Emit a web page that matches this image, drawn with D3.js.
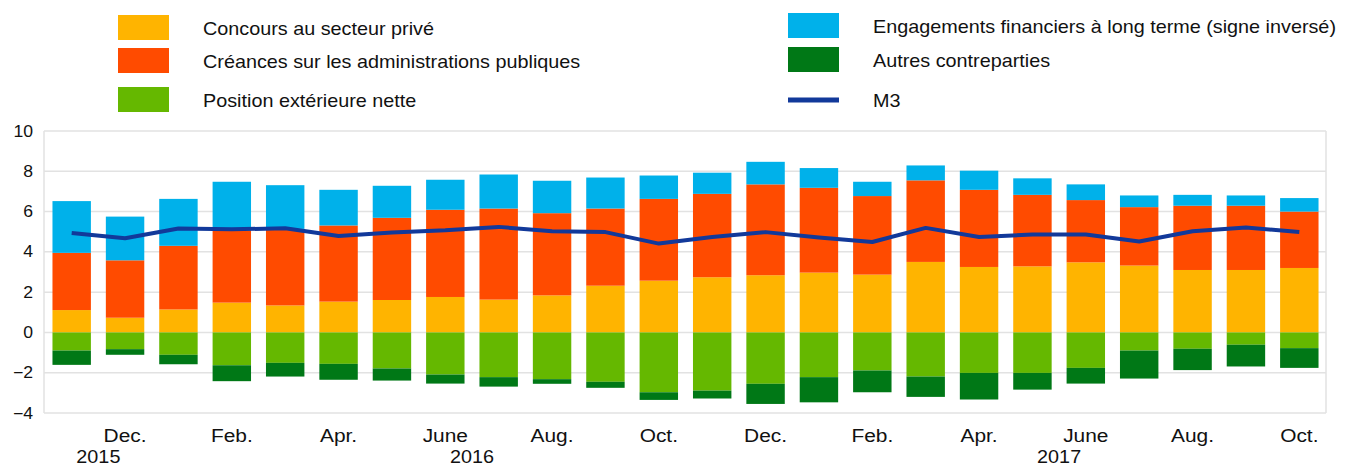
<!DOCTYPE html>
<html>
<head>
<meta charset="utf-8">
<script src="https://cdn.jsdelivr.net/npm/d3@7"></script>
<style>
  body { margin: 0; background: #fff; }
  svg { display: block; font-family: "Liberation Sans", Arial, sans-serif; }
</style>
</head>
<body>
<div class="chart"></div>
<script>
// months covered (Nov 2015 - Oct 2017)
const months = [
  "2015-11", "2015-12",
  "2016-01", "2016-02", "2016-03", "2016-04", "2016-05", "2016-06",
  "2016-07", "2016-08", "2016-09", "2016-10", "2016-11", "2016-12",
  "2017-01", "2017-02", "2017-03", "2017-04", "2017-05", "2017-06",
  "2017-07", "2017-08", "2017-09", "2017-10"
];
const tickMonths = ["2015-12", "2016-02", "2016-04", "2016-06", "2016-08", "2016-10",
                    "2016-12", "2017-02", "2017-04", "2017-06", "2017-08", "2017-10"];
const tickLabels = ["Dec.", "Feb.", "Apr.", "June", "Aug.", "Oct.",
                    "Dec.", "Feb.", "Apr.", "June", "Aug.", "Oct."];
const years = ["2015", "2016", "2017"];
const yTicks = [-4, -2, 0, 2, 4, 6, 8, 10];

// contributions (percentage points)
const privateSector = [1.11, 0.73, 1.14, 1.48, 1.34, 1.53, 1.61, 1.76, 1.63, 1.84, 2.32, 2.57,
                       2.74, 2.84, 2.97, 2.87, 3.50, 3.25, 3.28, 3.48, 3.32, 3.10, 3.10, 3.20];
const generalGov    = [2.84, 2.85, 3.16, 3.59, 3.80, 3.78, 4.08, 4.33, 4.52, 4.08, 3.83, 4.06,
                       4.14, 4.51, 4.21, 3.90, 4.05, 3.83, 3.55, 3.09, 2.90, 3.19, 3.19, 2.80];
const netExternal   = [-0.90, -0.83, -1.11, -1.63, -1.51, -1.56, -1.79, -2.09, -2.22, -2.32, -2.45, -2.97,
                       -2.89, -2.55, -2.22, -1.89, -2.19, -2.01, -2.01, -1.76, -0.90, -0.81, -0.61, -0.78];
const longTerm      = [2.57, 2.17, 2.33, 2.41, 2.17, 1.77, 1.59, 1.49, 1.69, 1.61, 1.54, 1.16,
                       1.05, 1.12, 0.98, 0.71, 0.74, 0.95, 0.82, 0.78, 0.58, 0.54, 0.51, 0.67];
const otherCounter  = [-0.71, -0.28, -0.47, -0.79, -0.68, -0.79, -0.60, -0.45, -0.47, -0.23, -0.30, -0.38,
                       -0.39, -1.00, -1.25, -1.08, -1.01, -1.32, -0.83, -0.78, -1.39, -1.06, -1.08, -0.98];
const m3            = [4.94, 4.68, 5.16, 5.12, 5.17, 4.79, 4.96, 5.07, 5.24, 5.02, 4.98, 4.41,
                       4.74, 4.98, 4.71, 4.49, 5.19, 4.74, 4.86, 4.86, 4.51, 5.02, 5.21, 4.99];

const series = [
  {key: "private", name: "Concours au secteur privé", color: "#ffb400", values: privateSector},
  {key: "gov", name: "Créances sur les administrations publiques", color: "#ff4b00", values: generalGov},
  {key: "ext", name: "Position extérieure nette", color: "#65b800", values: netExternal},
  {key: "lt", name: "Engagements financiers à long terme (signe inversé)", color: "#00b1ea", values: longTerm},
  {key: "other", name: "Autres contreparties", color: "#007816", values: otherCounter}
];
const m3Color = "#12399a";

const W = 1346, H = 467;
const stretch = "scale(1.1,1)"; // source text is slightly wide

const table = months.map((m, i) => {
  const row = {month: m, m3: m3[i]};
  series.forEach(s => row[s.key] = s.values[i]);
  return row;
});

const svg = d3.select(".chart").append("svg")
  .attr("width", W).attr("height", H);

const x = d3.scaleBand().domain(months).range([45, 1326]).paddingInner(0.28).paddingOuter(0.14);
const y = d3.scaleLinear().domain([-4, 10]).range([413, 131]);

// grid
svg.append("g")
  .selectAll("line")
  .data(yTicks)
  .join("line")
  .attr("x1", 44).attr("x2", 1326)
  .attr("y1", d => y(d)).attr("y2", d => y(d))
  .attr("stroke", "#e2e2e2").attr("stroke-width", 1.5);
svg.append("line")
  .attr("x1", 44).attr("x2", 44).attr("y1", y(10)).attr("y2", y(-4))
  .attr("stroke", "#e2e2e2").attr("stroke-width", 1.5);
svg.append("line")
  .attr("x1", 1326).attr("x2", 1326).attr("y1", y(10)).attr("y2", y(-4))
  .attr("stroke", "#e2e2e2").attr("stroke-width", 1.5);

// stacked bars
const stack = d3.stack()
  .keys(series.map(s => s.key))
  .offset(d3.stackOffsetDiverging);
const stacked = stack(table);

svg.append("g")
  .selectAll("g")
  .data(stacked)
  .join("g")
  .attr("fill", (d, i) => series[i].color)
  .selectAll("rect")
  .data(d => d)
  .join("rect")
  .attr("x", d => x(d.data.month))
  .attr("width", x.bandwidth())
  .attr("y", d => y(d[1]))
  .attr("height", d => y(d[0]) - y(d[1]));

// M3 line
const line = d3.line()
  .x(d => x(d.month) + x.bandwidth() / 2)
  .y(d => y(d.m3));
svg.append("path")
  .datum(table)
  .attr("d", line)
  .attr("fill", "none")
  .attr("stroke", m3Color)
  .attr("stroke-width", 4)
  .attr("stroke-linejoin", "round");

// y axis
const yAxis = svg.append("g")
  .attr("transform", "translate(44,0)")
  .call(d3.axisLeft(y).tickValues(yTicks).tickSize(0).tickPadding(10));
yAxis.select(".domain").remove();
yAxis.selectAll("text")
  .attr("font-size", 16).attr("fill", "#111")
  .attr("font-family", "Liberation Sans, Arial, sans-serif")
  .attr("transform", stretch);

// x axis
const xAxis = svg.append("g")
  .attr("transform", "translate(0,413)")
  .call(d3.axisBottom(x)
    .tickValues(tickMonths)
    .tickFormat(d => tickLabels[tickMonths.indexOf(d)])
    .tickSize(0).tickPadding(16));
xAxis.select(".domain").remove();
xAxis.selectAll("text")
  .attr("font-size", 19).attr("fill", "#111")
  .attr("font-family", "Liberation Sans, Arial, sans-serif")
  .attr("transform", stretch);

// year labels, centred on each year's months
svg.append("g")
  .selectAll("text")
  .data(years)
  .join("text")
  .attr("transform", yr => {
    const ms = months.filter(m => m.startsWith(yr));
    const cx = (x(ms[0]) + x(ms[ms.length - 1]) + x.bandwidth()) / 2;
    return `translate(${cx},463) ${stretch}`;
  })
  .attr("text-anchor", "middle")
  .attr("font-size", 18).attr("fill", "#111")
  .text(d => d);

// legend
const legendPos = [
  {key: "private", x: 118, y: 15},
  {key: "gov", x: 118, y: 48},
  {key: "ext", x: 118, y: 87},
  {key: "lt", x: 788, y: 13},
  {key: "other", x: 788, y: 47}
];
const lg = svg.append("g");
legendPos.forEach(p => {
  const s = series.find(d => d.key === p.key);
  lg.append("rect")
    .attr("x", p.x).attr("y", p.y).attr("width", 51).attr("height", 25)
    .attr("fill", s.color);
  lg.append("text")
    .attr("transform", `translate(${p.x + 85},${p.y + 20}) ${stretch}`)
    .attr("font-size", 18).attr("fill", "#111")
    .text(s.name);
});
lg.append("line")
  .attr("x1", 788).attr("x2", 839).attr("y1", 100).attr("y2", 100)
  .attr("stroke", m3Color).attr("stroke-width", 5);
lg.append("text")
  .attr("transform", `translate(873,107) ${stretch}`)
  .attr("font-size", 18).attr("fill", "#111")
  .text("M3");
</script>
</body>
</html>
